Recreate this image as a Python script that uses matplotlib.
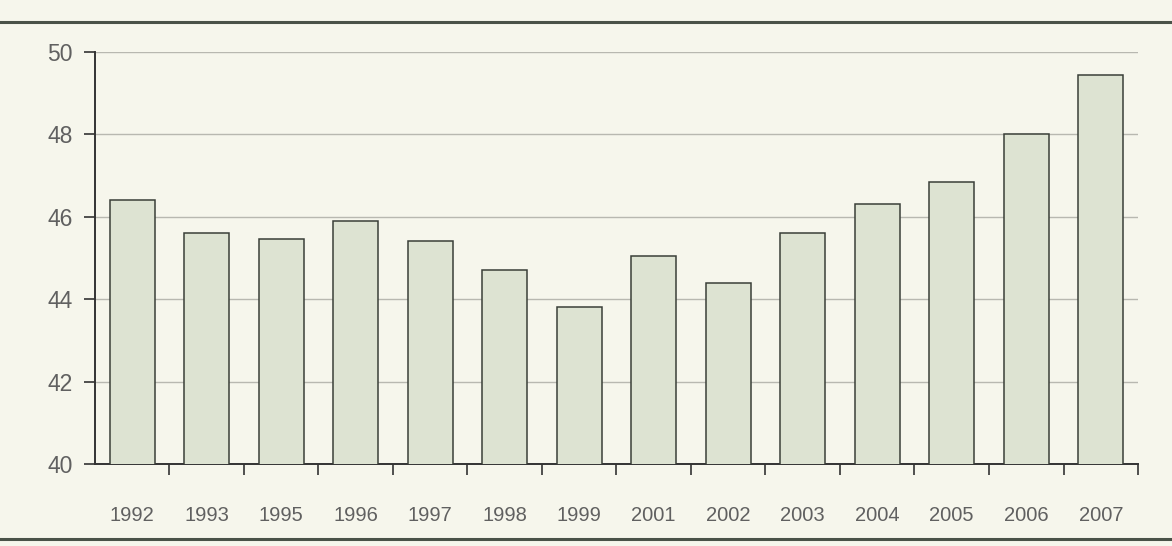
import matplotlib.pyplot as plt
from matplotlib.lines import Line2D
import numpy as np

anos = ["1992", "1993", "1995", "1996", "1997", "1998", "1999",
        "2001", "2002", "2003", "2004", "2005", "2006", "2007"]
valores = [46.4, 45.6, 45.45, 45.9, 45.4, 44.7, 43.8,
           45.05, 44.4, 45.6, 46.3, 46.85, 48.0, 49.45]
yticks = [40, 42, 44, 46, 48, 50]

papel = '#f6f6ec'
fig = plt.figure(figsize=(11.72, 5.46), dpi=100)
fig.set_facecolor(papel)
ax = fig.add_axes([0.081, 0.150, 0.89, 0.755])
ax.set_facecolor(papel)

x = np.arange(len(anos))
ax.bar(x, valores, width=0.6, color='#dde3d2',
       edgecolor='#3a3f38', linewidth=1.1, zorder=3)

ax.set_ylim(40, 50)
ax.set_xlim(-0.5, len(anos) - 0.5)
ax.set_yticks(yticks)
ax.set_yticklabels([str(v) for v in yticks], fontsize=16.5,
                   color='#606060', family='Liberation Sans')
ax.set_xticks(x)
ax.set_xticklabels(anos, fontsize=14.5, color='#606060',
                   family='Liberation Sans')
ax.tick_params(axis='x', which='major', length=0, pad=30)
ax.set_xticks(np.arange(len(anos)) + 0.5, minor=True)
ax.tick_params(axis='x', which='minor', length=8, width=1.2,
               color='#333333', direction='out')
ax.tick_params(axis='y', length=8, width=1.2, color='#333333', pad=8)

ax.yaxis.grid(True, color='#b8b8b0', linewidth=1, zorder=0)
for s in ['top', 'right']:
    ax.spines[s].set_visible(False)
for s in ['left', 'bottom']:
    ax.spines[s].set_color('#333333')
    ax.spines[s].set_linewidth(1.4)

# linhas da moldura
fig.add_artist(Line2D([0, 1], [0.96, 0.96], transform=fig.transFigure,
                      color='#4a5248', linewidth=2.2))
fig.add_artist(Line2D([0, 1], [0.012, 0.012], transform=fig.transFigure,
                      color='#4a5248', linewidth=2.2))

fig.savefig('out.png', dpi=100, facecolor=papel)
